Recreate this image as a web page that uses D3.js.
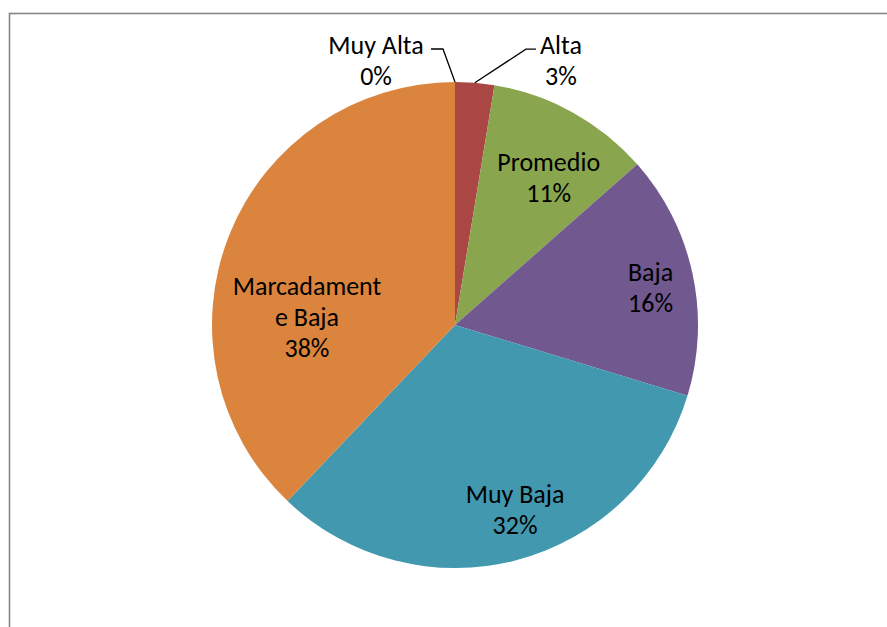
<!DOCTYPE html>
<html><head><meta charset="utf-8">
<script src="https://cdn.jsdelivr.net/npm/d3@7"></script>
<style>body{margin:0;background:#fff;} text{font-family:Carlito,Calibri,Lato,sans-serif;}</style>
</head><body>
<svg id="c" width="887" height="627"></svg>
<script>
const categories = ["Muy Alta","Alta","Promedio","Baja","Muy Baja","Marcadamente Baja"];
const values = [0, 2.6, 10.9, 16.2, 32.4, 37.9];
const percentLabels = ["0%","3%","11%","16%","32%","38%"];
const labelLines = [["Muy Alta"],["Alta"],["Promedio"],["Baja"],["Muy Baja"],["Marcadament","e Baja"]];
const colors = ["#4572A7","#AA4643","#89A54E","#71588F","#4198AF","#DB843D"];

// layout: [angle deg, radius fraction] for label centers
const labelLayout = [[-16.6,1.138],[21.8,1.174],[32.4,0.72],[79,0.82],[162,0.80],[273,0.61]];

const svg = d3.select("#c");
const cx = 455, cy = 325, R = 243;

svg.append("rect").attr("x",9.5).attr("y",13.5).attr("width",900).attr("height",700)
  .attr("fill","none").attr("stroke","#868686").attr("stroke-width",1.6);

const pie = d3.pie().sort(null).value(d=>d)(values);
const arc = d3.arc().innerRadius(0).outerRadius(R);
const g = svg.append("g").attr("transform",`translate(${cx},${cy})`);
g.selectAll("path").data(pie).join("path").attr("d",arc).attr("fill",(d,i)=>colors[i]);

const fs = 26;
const lh = 31;

const mid = d => (d.startAngle+d.endAngle)/2;
const polar = (a,r)=>[r*Math.sin(a), -r*Math.cos(a)];

pie.forEach((d,i)=>{
  const [ang,fr] = labelLayout[i];
  const [x,y] = polar(ang*Math.PI/180, fr*R);
  const lines = labelLines[i].concat([percentLabels[i]]);
  const t = g.append("text").attr("text-anchor","middle").attr("font-size",fs).attr("fill","#000");
  const n = lines.length;
  lines.forEach((L,k)=>{
    t.append("tspan").attr("x",x).attr("y",y+(k-(n-1)/2)*lh).attr("dy","0.35em").text(L);
  });
});

// leader lines for outside labels
const lead = (i, side) => {
  const d = pie[i];
  const p0 = polar(mid(d), R);
  const [lx,ly] = polar(labelLayout[i][0]*Math.PI/180, labelLayout[i][1]*R);
  const yy = ly - 11;
  const elbowX = side<0 ? lx + 67 : lx - 35;
  const endX = side<0 ? lx + 55 : lx - 25;
  const pts = [p0, [elbowX, yy], [endX, yy]];
  g.append("path").attr("d", d3.line()(pts)).attr("fill","none").attr("stroke","#000").attr("stroke-width",1.3);
};
lead(0,-1); lead(1,1);
</script>
</body></html>
